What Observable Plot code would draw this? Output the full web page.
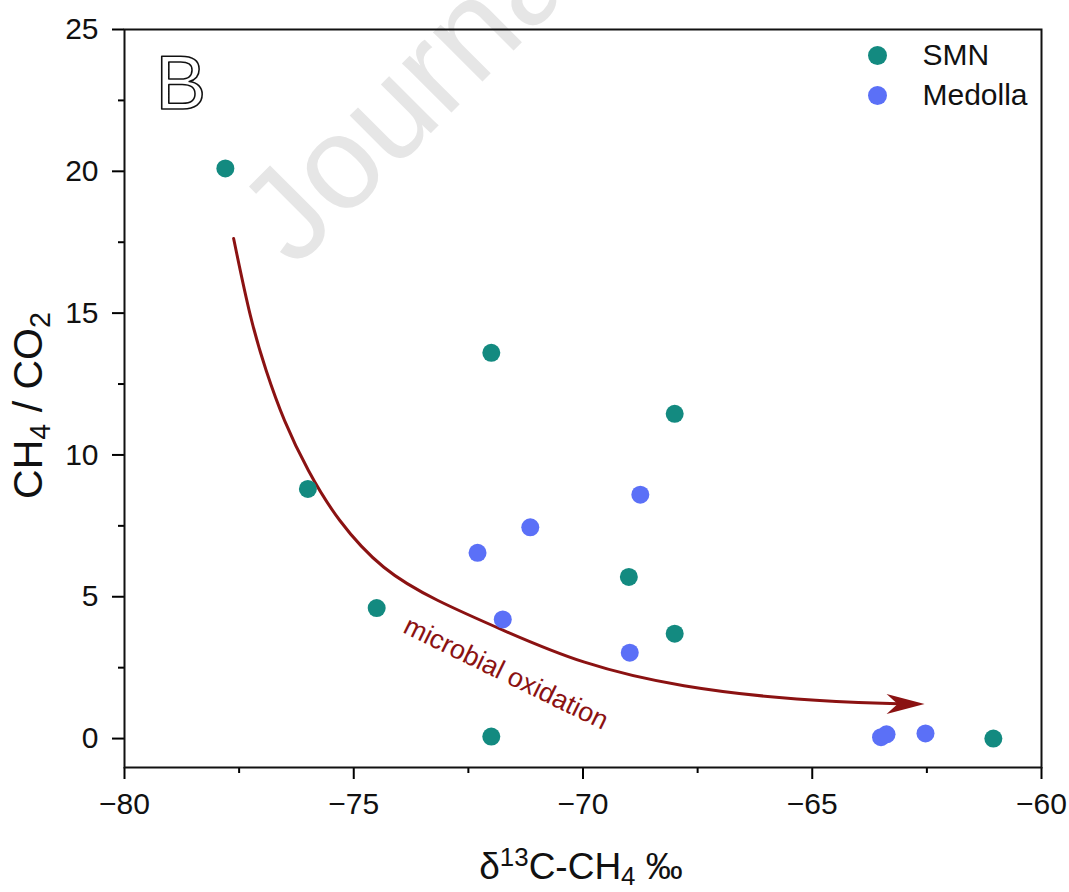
<!DOCTYPE html>
<html><head><meta charset="utf-8">
<script src="https://cdn.jsdelivr.net/npm/d3@7"></script>
<script src="https://cdn.jsdelivr.net/npm/@observablehq/plot@0.6"></script>
<style>body{margin:0;background:#fff} svg{display:block}</style>
</head><body><div id="chart"></div>
<script>
// ---- data ----
const smnX = [-77.8, -76.0, -74.5, -72.0, -72.0, -68.0, -69.0, -68.0, -61.05];
const smnY = [20.1, 8.8, 4.6, 13.6, 0.07, 11.45, 5.7, 3.7, 0.0];
const medX = [-72.3, -71.15, -71.75, -68.75, -68.98, -63.5, -63.38, -62.53];
const medY = [6.55, 7.45, 4.2, 8.6, 3.03, 0.05, 0.15, 0.18];
const seriesNames = ["SMN", "Medolla"];
const xMajor = [-80, -75, -70, -65, -60];
const xMinor = [-77.5, -72.5, -67.5, -62.5];
const yMajor = [0, 5, 10, 15, 20, 25];
const yMinor = [2.5, 7.5, 12.5, 17.5, 22.5];
// trend arrow path (data units)
const arrowX = [-77.62, -77.25, -76.92, -76.53, -76.01, -75.36, -74.37, -73.22, -71.73, -70.05, -67.87, -65.26, -63.12];
const arrowY = [17.63, 14.74, 12.98, 11.21, 9.45, 7.69, 5.92, 4.87, 3.81, 2.64, 1.80, 1.34, 1.23];
const arrowTip = {x: -62.55, y: 1.22};
const arrowLabel = {x: -71.68, y: 2.3, text: "microbial oxidation"};
const panelLabel = "B";
const xTitle = "δ13C-CH4 ‰";
const yTitle = "CH4 / CO2";
const watermark = "Journal Pre-proof";

const FONT = "'Liberation Sans', Arial, Helvetica, sans-serif";
const TEAL = "#138a80";
const BLUE = "#5b70f7";
const RED = "#8b1212";
const colors = [TEAL, BLUE];

const smn = smnX.map((x, i) => ({x, y: smnY[i]}));
const med = medX.map((x, i) => ({x, y: medY[i]}));
const arrow = arrowX.map((x, i) => ({x, y: arrowY[i]}));
const fmt = d => d < 0 ? "\u2212" + Math.abs(d) : String(d);

const arrowHead = {
  draw(ctx) {
    ctx.moveTo(0, 0);
    ctx.lineTo(-38, -10);
    ctx.lineTo(-27, 0);
    ctx.lineTo(-38, 10);
    ctx.closePath();
  }
};

const legendMarks = seriesNames.flatMap((name, i) => [
  Plot.dot([name], {frameAnchor: "top-right", dx: -164, dy: 26 + 40 * i, r: 9.5, fill: colors[i], stroke: "none"}),
  Plot.text([name], {frameAnchor: "top-right", dx: -119, dy: 26 + 40 * i, text: d => d, textAnchor: "start", lineAnchor: "middle", fontSize: 30, fill: "#111"})
]);

const chart = Plot.plot({
  width: 1069, height: 892,
  marginLeft: 124, marginRight: 28, marginTop: 29, marginBottom: 125,
  style: {fontFamily: FONT, background: "white", color: "black", overflow: "visible"},
  x: {domain: [-80, -60]},
  y: {domain: [-1.02, 25]},
  marks: [
    Plot.text([watermark], {frameAnchor: "top-left", dx: 170, dy: 240, text: d => d, rotate: -45, fontSize: 132, fill: "#e6e6e6", textAnchor: "start", lineAnchor: "bottom"}),
    Plot.axisX(xMajor, {tickSize: 12, tickPadding: 13, fontSize: 30, strokeWidth: 2, tickFormat: fmt, label: null, fill: "#111"}),
    Plot.axisX(xMinor, {tickSize: 6, strokeWidth: 2, tickFormat: () => "", label: null}),
    Plot.axisY(yMajor, {tickSize: 12, tickPadding: 14, fontSize: 30, strokeWidth: 2, tickFormat: fmt, label: null, fill: "#111"}),
    Plot.axisY(yMinor, {tickSize: 6, strokeWidth: 2, tickFormat: () => "", label: null}),
    Plot.frame({stroke: "#111", strokeWidth: 2}),
    Plot.line(arrow, {x: "x", y: "y", curve: "basis", stroke: RED, strokeWidth: 3}),
    Plot.dot([arrowTip], {x: "x", y: "y", symbol: arrowHead, fill: RED, stroke: "none"}),
    Plot.text([arrowLabel], {x: "x", y: "y", text: "text", rotate: 26, fontSize: 27, fill: RED}),
    Plot.dot(smn, {x: "x", y: "y", r: 9, fill: TEAL, stroke: "none"}),
    Plot.dot(med, {x: "x", y: "y", r: 9, fill: BLUE, stroke: "none"}),
    ...legendMarks,
    Plot.text([panelLabel], {frameAnchor: "top-left", dx: 31, dy: 79, text: d => d, fontSize: 76, fill: "none", stroke: "#111", strokeWidth: 1.6, textAnchor: "start", lineAnchor: "bottom"}),
    Plot.text([xTitle], {frameAnchor: "bottom", dx: -2, dy: 111, text: d => d, fontSize: 37, fill: "#111", textAnchor: "middle", lineAnchor: "bottom"}),
    Plot.text([yTitle], {frameAnchor: "left", dx: -83, dy: 7, text: d => d, rotate: -90, fontSize: 41, fill: "#111", textAnchor: "middle", lineAnchor: "bottom"})
  ]
});

// rich text (super/subscripts) for the axis titles
d3.select(chart).selectAll("text").each(function() {
  const t = this.textContent;
  const sel = d3.select(this);
  let parts = null;
  if (t === xTitle) parts = [["δ", null], ["13", "13px"], ["C-CH", null], ["4", "-6px"], [" ‰", null]];
  else if (t === yTitle) parts = [["CH", null], ["4", "-8px"], [" / CO", null], ["2", "-8px"]];
  if (!parts) return;
  sel.text(null);
  for (const [s, shift] of parts) {
    const ts = sel.append("tspan").text(s);
    if (shift) ts.attr("baseline-shift", shift).attr("font-size", "70%");
  }
});

document.getElementById("chart").appendChild(chart);
</script>
</body></html>
